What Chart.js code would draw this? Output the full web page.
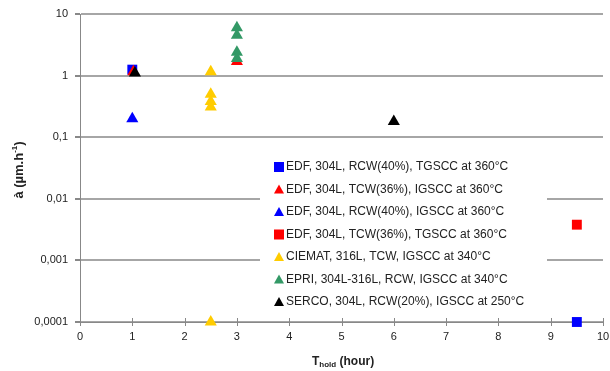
<!DOCTYPE html>
<html>
<head>
<meta charset="utf-8">
<script src="https://cdn.jsdelivr.net/npm/chart.js@4"></script>
<style>
  html, body { margin: 0; padding: 0; background: #fff; }
  #wrap { width: 610px; height: 371px; position: relative; }
</style>
</head>
<body>
<div id="wrap"><canvas id="chart"></canvas></div>
<script>
// series labels (legend order)
const seriesLabels = [
  'EDF, 304L, RCW(40%), TGSCC at 360°C',
  'EDF, 304L, TCW(36%), IGSCC at 360°C',
  'EDF, 304L, RCW(40%), IGSCC at 360°C',
  'EDF, 304L, TCW(36%), TGSCC at 360°C',
  'CIEMAT, 316L, TCW, IGSCC at 340°C',
  'EPRI, 304L-316L, RCW, IGSCC at 340°C',
  'SERCO, 304L, RCW(20%), IGSCC at 250°C'
];
const seriesColors = ['#0000ff', '#ff0000', '#0000ff', '#ff0000', '#ffcc00', '#339966', '#000000'];
const seriesShapes = ['rect', 'triangle', 'triangle', 'rect', 'triangle', 'triangle', 'triangle'];

// hold time (hour) and crack growth rate (µm/h)
const edfRcwTgX = [1, 9.5];
const edfRcwTgY = [1.25, 0.0001];
const edfTcwIgX = [1.02, 3];
const edfTcwIgY = [1.15, 1.7];
const edfRcwIgX = [1];
const edfRcwIgY = [0.2];
const edfTcwTgX = [9.5];
const edfTcwTgY = [0.0038];
const ciematX = [2.5, 2.5, 2.5, 2.5, 2.5];
const ciematY = [1.15, 0.5, 0.38, 0.31, 0.0001];
const epriX = [3, 3, 3, 3];
const epriY = [6.0, 4.5, 2.4, 1.9];
const sercoX = [1.05, 6];
const sercoY = [1.1, 0.18];

const xs = [edfRcwTgX, edfTcwIgX, edfRcwIgX, edfTcwTgX, ciematX, epriX, sercoX];
const ys = [edfRcwTgY, edfTcwIgY, edfRcwIgY, edfTcwTgY, ciematY, epriY, sercoY];

const yTicks = [10, 1, 0.1, 0.01, 0.001, 0.0001];
const yTickLabels = ['10', '1', '0,1', '0,01', '0,001', '0,0001'];
const xTicks = [0, 1, 2, 3, 4, 5, 6, 7, 8, 9, 10];

const FONT = '"Liberation Sans", Arial, sans-serif';

let datasets = seriesLabels.map((lab, i) => ({
  label: lab,
  data: xs[i].map((x, j) => ({ x: x, y: ys[i][j] })),
  pointStyle: seriesShapes[i],
  pointRadius: 7,
  backgroundColor: seriesColors[i],
  borderColor: seriesColors[i],
  borderWidth: 0,
  clip: false,
  order: seriesLabels.length - i
}));

// titles, cross ticks and in-plot legend
const extras = {
  id: 'extras',
  afterDraw(chart) {
    let ctx = chart.ctx;
    let area = chart.chartArea;
    let xs = chart.scales.x;

    // x tick marks crossing the axis
    ctx.save();
    ctx.strokeStyle = '#888';
    ctx.lineWidth = 1;
    xTicks.forEach(t => {
      let px = Math.round(xs.getPixelForValue(t)) + 0.5;
      ctx.beginPath();
      ctx.moveTo(px, area.bottom - 4);
      ctx.lineTo(px, area.bottom + 4);
      ctx.stroke();
    });
    ctx.restore();

    // legend
    let lx = 260, ly = 152, lw = 287, lh = 150;
    ctx.save();
    ctx.fillStyle = '#fff';
    ctx.fillRect(lx, ly, lw, lh);
    ctx.font = '12px ' + FONT;
    ctx.textBaseline = 'middle';
    seriesLabels.forEach((lab, i) => {
      let cy = 167 + i * 22.5;
      let mx = 279;
      ctx.fillStyle = seriesColors[i];
      if (seriesShapes[i] === 'rect') {
        ctx.fillRect(mx - 5, cy - 5, 10, 10);
      } else {
        ctx.beginPath();
        ctx.moveTo(mx, cy - 5);
        ctx.lineTo(mx + 5, cy + 4);
        ctx.lineTo(mx - 5, cy + 4);
        ctx.closePath();
        ctx.fill();
      }
      ctx.fillStyle = '#222';
      ctx.fillText(lab, 286, cy);
    });
    ctx.restore();

    // x title
    ctx.save();
    ctx.fillStyle = '#222';
    ctx.textBaseline = 'alphabetic';
    ctx.font = 'bold 12px ' + FONT;
    let tx = 312, ty = 365;
    ctx.fillText('T', tx, ty);
    let w = ctx.measureText('T').width;
    ctx.font = 'bold 8px ' + FONT;
    ctx.fillText('hold', tx + w, ty + 2);
    let w2 = ctx.measureText('hold').width;
    ctx.font = 'bold 12px ' + FONT;
    ctx.fillText(' (hour)', tx + w + w2, ty);
    ctx.restore();

    // y title
    ctx.save();
    ctx.translate(23, 170);
    ctx.rotate(-Math.PI / 2);
    ctx.fillStyle = '#222';
    ctx.textBaseline = 'alphabetic';
    let part1 = 'à (µm.h';
    ctx.font = 'bold 13px ' + FONT;
    let p1w = ctx.measureText(part1).width;
    let p3w = ctx.measureText(')').width;
    ctx.font = 'bold 8px ' + FONT;
    let p2w = ctx.measureText('-1').width;
    let sx = -(p1w + p2w + p3w) / 2;
    ctx.font = 'bold 13px ' + FONT;
    ctx.fillText(part1, sx, 0);
    ctx.font = 'bold 8px ' + FONT;
    ctx.fillText('-1', sx + p1w, -6);
    ctx.font = 'bold 13px ' + FONT;
    ctx.fillText(')', sx + p1w + p2w, 0);
    ctx.restore();
  }
};

new Chart(document.getElementById('chart'), {
  type: 'scatter',
  data: { datasets: datasets },
  options: {
    responsive: true,
    maintainAspectRatio: false,
    animation: false,
    layout: { padding: { top: 14, right: 3, left: 0, bottom: 0 } },
    plugins: {
      legend: { display: false },
      tooltip: { enabled: false }
    },
    scales: {
      x: {
        type: 'linear',
        min: 0,
        max: 10,
        afterBuildTicks: s => { s.ticks = xTicks.map(v => ({ value: v })); },
        afterFit: s => { s.height = 49; s.paddingLeft = 0; s.paddingRight = 0; },
        grid: { drawOnChartArea: false, drawTicks: false, color: '#888' },
        border: { color: '#888', width: 1 },
        ticks: { color: '#222', font: { family: FONT, size: 11 }, padding: 8, maxRotation: 0 }
      },
      y: {
        type: 'logarithmic',
        min: 0.0001,
        max: 10,
        afterBuildTicks: s => { s.ticks = yTicks.map(v => ({ value: v })); },
        afterFit: s => { s.width = 80; s.paddingTop = 0; s.paddingBottom = 0; },
        grid: { color: '#a6a6a6', lineWidth: 2, tickLength: 5, tickColor: '#888' },
        border: { color: '#888', width: 1 },
        ticks: {
          color: '#222',
          font: { family: FONT, size: 11 },
          padding: 7,
          callback: (v) => {
            let k = yTicks.indexOf(v);
            return k >= 0 ? yTickLabels[k] : '';
          }
        }
      }
    }
  },
  plugins: [extras]
});
</script>
</body>
</html>
